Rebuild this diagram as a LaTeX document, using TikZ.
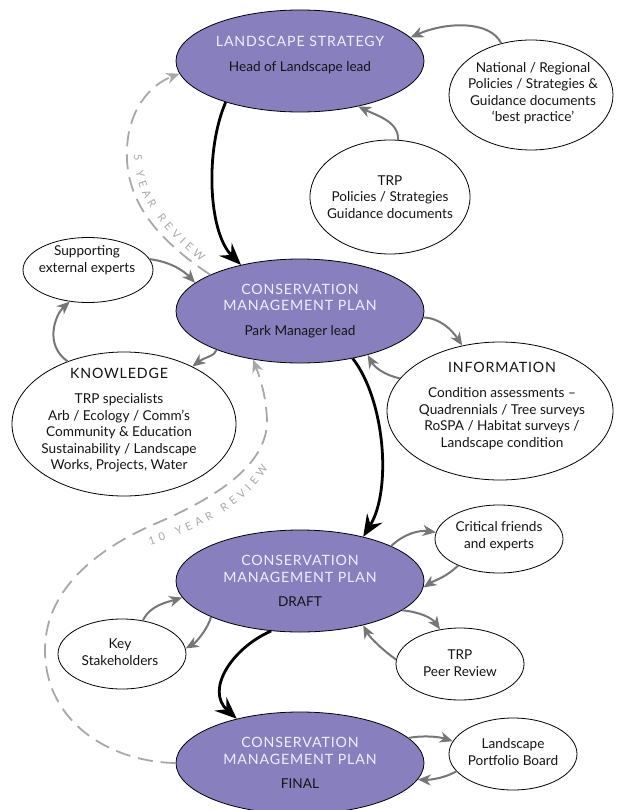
\documentclass[tikz,border=0pt]{standalone}
\usepackage{fontspec}
\setmainfont{Lato}
\newfontfamily\headfont[LetterSpace=6]{Lato}
\usepackage{tikz}
\usetikzlibrary{arrows.meta, shapes.geometric, decorations.text}
\usepackage{xcolor}
\definecolor{planpurple}{RGB}{136, 128, 190}
\definecolor{planhead}{RGB}{240, 238, 250}
\definecolor{feedgrey}{RGB}{118, 118, 118}
\definecolor{reviewgrey}{RGB}{168, 168, 168}
\definecolor{inktext}{RGB}{20, 20, 20}
\newcommand{\capline}[1]{{\headfont\fontsize{14.2}{16.5}\selectfont #1}}

\begin{document}
\begin{tikzpicture}[x=1pt, y=-1pt,
    planbox/.style={ellipse, draw=black, line width=0.8pt, fill=planpurple, minimum width=248pt, minimum height=102pt},
    inbox/.style={ellipse, draw=black, line width=0.8pt, fill=white},
    boxtext/.style={align=center, inner sep=0pt, text=inktext, font=\fontsize{13.6}{16.5}\selectfont},
    flow/.style={-{Stealth[length=22pt, width=18pt, inset=8pt]}, line width=2.8pt, black},
    feed/.style={-{Stealth[length=13pt, width=11pt, inset=4pt]}, line width=2pt, feedgrey},
    review/.style={-{Stealth[length=13pt, width=11pt, inset=4pt]}, line width=1.8pt, reviewgrey, dash pattern=on 15pt off 8pt},
    reviewtext/.style={decorate, decoration={text along path, text align={fit to path}, text color=reviewgrey, text={|\fontsize{11}{11}\selectfont|#1}}}]
    \useasboundingbox (0,0) rectangle (617,810);

    \node[planbox] (ls) at (300,61) {};
    \node[planbox, minimum height=104pt] (cmp) at (300,311) {};
    \node[planbox] (draft) at (300,581) {};
    \node[planbox] (final) at (300,763) {};

    \node[inbox, minimum width=164pt, minimum height=110pt] (natl) at (531,95) {};
    \node[inbox, minimum width=160pt, minimum height=114pt] (trp) at (390,197) {};
    \node[inbox, minimum width=130pt, minimum height=65pt] (experts) at (88,270) {};
    \node[inbox, minimum width=224pt, minimum height=144pt] (know) at (124,424) {};
    \node[inbox, minimum width=226pt, minimum height=138pt] (info) at (500,411) {};
    \node[inbox, minimum width=128pt, minimum height=68pt] (critical) at (499,539) {};
    \node[inbox, minimum width=128pt, minimum height=72pt] (peer) at (460,664) {};
    \node[inbox, minimum width=128pt, minimum height=72pt] (board) at (513,754) {};
    \node[inbox, minimum width=128pt, minimum height=70pt] (stake) at (122,654) {};

    \node[boxtext] (lstext) at (300,55) {\textcolor{planhead}{\capline{LANDSCAPE STRATEGY}}\\[8pt]Head of Landscape lead};
    \node[boxtext] (cmptext) at (300,311) {\textcolor{planhead}{\capline{CONSERVATION}}\\\textcolor{planhead}{\capline{MANAGEMENT PLAN}}\\[8pt]Park Manager lead};
    \node[boxtext] (drafttext) at (300,581) {\textcolor{planhead}{\capline{CONSERVATION}}\\\textcolor{planhead}{\capline{MANAGEMENT PLAN}}\\[8pt]DRAFT};
    \node[boxtext] (finaltext) at (300,763) {\textcolor{planhead}{\capline{CONSERVATION}}\\\textcolor{planhead}{\capline{MANAGEMENT PLAN}}\\[8pt]FINAL};
    \node[boxtext] (natltext) at (533,93) {National / Regional\\Policies / Strategies \&\\Guidance documents\\`best practice'};
    \node[boxtext] (trptext) at (390,197) {TRP\\Policies / Strategies\\Guidance documents};
    \node[boxtext] (expertstext) at (87,260) {Supporting\\external experts};
    \node[boxtext] (knowtext) at (119,420) {\capline{KNOWLEDGE}\\[9pt]TRP specialists\\Arb / Ecology / Comm's\\Community \& Education\\Sustainability / Landscape\\Works, Projects, Water};
    \node[boxtext] (infotext) at (502,406) {\capline{INFORMATION}\\[9pt]Condition assessments --\\Quadrennials / Tree surveys\\RoSPA / Habitat surveys /\\Landscape condition};
    \node[boxtext] (criticaltext) at (499,536) {Critical friends\\and experts};
    \node[boxtext] (peertext) at (460,663) {TRP\\Peer Review};
    \node[boxtext] (boardtext) at (513,752) {Landscape\\Portfolio Board};
    \node[boxtext] (staketext) at (120,652) {Key\\Stakeholders};

    \draw[flow] (ls.209) .. controls (205,150) and (208,232) .. (cmp.142);
    \draw[flow] (cmp.-42) .. controls (385,400) and (392,490) .. (draft.35);
    \draw[flow] (draft.240) .. controls (232,648) and (205,690) .. (final.145);

    \draw[feed] (natl.120) .. controls (490,20) and (445,22) .. (ls.12);
    \draw[feed] (trp.82) .. controls (399,122) and (378,116) .. (ls.-38);
    \draw[feed] (experts.10) .. controls (172,262) and (185,272) .. (cmp.165);
    \draw[feed] (know.132) .. controls (44,345) and (55,315) .. (experts.-120);
    \draw[feed] (cmp.205) .. controls (215,356) and (205,357) .. (know.40);
    \draw[feed] (cmp.-3) .. controls (440,318) and (452,330) .. (info.120);
    \draw[feed] (info.162) .. controls (385,375) and (375,368) .. (cmp.-33);
    \draw[feed] (draft.21) .. controls (405,533) and (420,530) .. (critical.174);
    \draw[feed] (critical.213) .. controls (445,578) and (435,580) .. (draft.-3);
    \draw[feed] (draft.-16) .. controls (420,612) and (432,618) .. (peer.120);
    \draw[feed] (peer.176) .. controls (385,652) and (370,638) .. (draft.-35);
    \draw[feed] (final.13) .. controls (425,735) and (440,737) .. (board.168);
    \draw[feed] (board.197) .. controls (445,778) and (430,780) .. (final.-8);
    \draw[feed] (draft.202) .. controls (208,628) and (197,642) .. (stake.5);
    \draw[feed] (stake.58) .. controls (150,605) and (168,602) .. (draft.188);

    \draw[review] (cmp.158) .. controls (150,235) and (125,195) .. (127,150) .. controls (128,110) and (150,85) .. (ls.186);
    \draw[review] (final.180) .. controls (110,762) and (45,722) .. (45,650) .. controls (45,585) and (105,545) .. (157,523) .. controls (215,498) and (268,465) .. (267,420) .. controls (266,395) and (260,378) .. (cmp.226);
    \path[reviewtext={5 YEAR REVIEW}] (134,154) .. controls (134,195) and (159,228) .. (201,262);
    \path[reviewtext={10 YEAR REVIEW}] (150,545) .. controls (200,529) and (245,507) .. (268,468);
\end{tikzpicture}
\end{document}
